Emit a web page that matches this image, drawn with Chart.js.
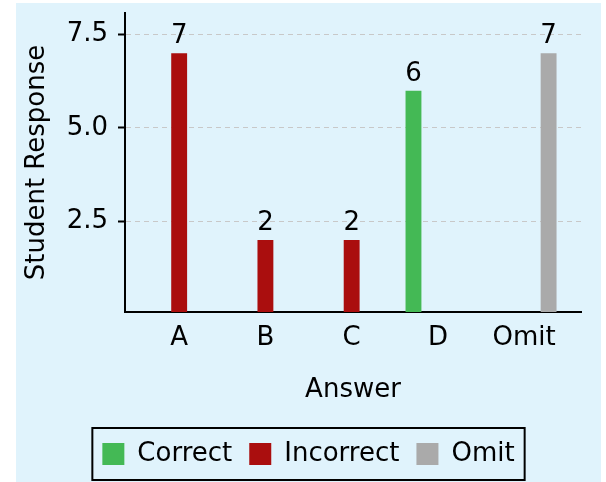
<!DOCTYPE html>
<html>
<head>
<meta charset="utf-8">
<script src="https://cdn.jsdelivr.net/npm/chart.js@4.4.0/dist/chart.umd.min.js"></script>
<style>
  body { margin: 0; background: #fff; }
  canvas { display: block; }
</style>
</head>
<body>
<canvas id="responses" width="606" height="482"></canvas>
<script>
// 回答ごとの人数
const categories = ['A', 'B', 'C', 'D', 'Omit'];
const correct = [null, null, null, 6, null];
const incorrect = [7, 2, 2, null, null];
const omit = [null, null, null, null, 7];
const yTicks = [2.5, 5.0, 7.5];

const FONT = 'DejaVu Sans';

function toPoints(values) {
    return categories.map((c, i) => ({ x: i, y: values[i] }));
}

// 背景
const background = {
    id: 'background',
    beforeDraw(chart) {
        const ctx = chart.ctx;
        ctx.save();
        ctx.fillStyle = 'rgb(224, 243, 252)';
        ctx.fillRect(16, 3, 585, 479);
        ctx.restore();
    }
};

// 棒の上の数値
const valueLabels = {
    id: 'valueLabels',
    afterDatasetsDraw(chart) {
        const ctx = chart.ctx;
        ctx.save();
        ctx.font = '26px "' + FONT + '"';
        ctx.fillStyle = '#000';
        ctx.textAlign = 'center';
        ctx.textBaseline = 'alphabetic';
        chart.data.datasets.forEach((ds, d) => {
            const meta = chart.getDatasetMeta(d);
            meta.data.forEach((bar, i) => {
                const v = ds.data[i].y;
                if (v === null) return;
                ctx.fillText(String(v), bar.x, bar.y - 10);
            });
        });
        ctx.restore();
    }
};

// 凡例の枠
const legendBox = {
    id: 'legendBox',
    afterDraw(chart) {
        const boxes = chart.legend.legendHitBoxes;
        if (!boxes || !boxes.length) return;
        const first = boxes[0];
        const last = boxes[boxes.length - 1];
        const ctx = chart.ctx;
        ctx.save();
        ctx.strokeStyle = '#000';
        ctx.lineWidth = 2;
        ctx.strokeRect(first.left - 10, first.top - 13,
            last.left + last.width + 10 - (first.left - 10), first.height + 26);
        ctx.restore();
    }
};

Chart.defaults.font.family = FONT;
Chart.defaults.font.size = 26;
Chart.defaults.color = '#000';

new Chart(document.getElementById('responses'), {
    type: 'bar',
    data: {
        datasets: [
            { label: 'Correct', data: toPoints(correct), backgroundColor: '#44b955' },
            { label: 'Incorrect', data: toPoints(incorrect), backgroundColor: '#aa0e0e' },
            { label: 'Omit', data: toPoints(omit), backgroundColor: '#aaaaaa' }
        ]
    },
    options: {
        responsive: false,
        animation: false,
        categoryPercentage: 0.85,
        barPercentage: 0.65,
        layout: { padding: { left: 16, right: 5, top: 13, bottom: 5 } },
        plugins: {
            tooltip: { enabled: false },
            legend: {
                position: 'bottom',
                labels: { boxWidth: 22, boxHeight: 22, padding: 17, font: { size: 26 } }
            }
        },
        scales: {
            x: {
                type: 'linear',
                offset: false,
                min: -0.628,
                max: 4.659,
                afterFit: s => {
                    s.height = 112;
                    s.paddingLeft = 0;
                    s.paddingRight = 0;
                },
                afterBuildTicks: s => { s.ticks = categories.map((c, i) => ({ value: i })); },
                grid: { display: false, drawTicks: false, offset: false },
                border: { display: true, color: '#000', width: 2 },
                ticks: {
                    padding: 11,
                    maxRotation: 0,
                    autoSkip: false,
                    callback: v => categories[v]
                },
                title: { display: true, text: 'Answer', padding: { top: 0, bottom: 18 } }
            },
            y: {
                min: 0.07,
                max: 8.08,
                afterFit: s => {
                    s.width = 109;
                    s.paddingTop = 0;
                    s.paddingBottom = 0;
                },
                afterBuildTicks: s => { s.ticks = yTicks.map(v => ({ value: v })); },
                grid: {
                    color: 'rgb(200, 200, 200)',
                    lineWidth: 1,
                    tickColor: '#000',
                    tickWidth: 2,
                    tickLength: 7,
                    tickBorderDash: []
                },
                border: { display: true, color: '#000', width: 2, dash: [5, 4] },
                ticks: {
                    padding: 10,
                    callback: v => v.toFixed(1)
                },
                title: { display: true, text: 'Student Response', padding: { top: 6, bottom: 0 } }
            },
            y2: {
                position: 'right',
                afterFit: s => {
                    s.width = 20;
                    s.paddingTop = 0;
                    s.paddingBottom = 0;
                },
                grid: { display: false, drawTicks: false },
                border: { display: false },
                ticks: { display: false }
            }
        }
    },
    plugins: [background, valueLabels, legendBox]
});
</script>
</body>
</html>
